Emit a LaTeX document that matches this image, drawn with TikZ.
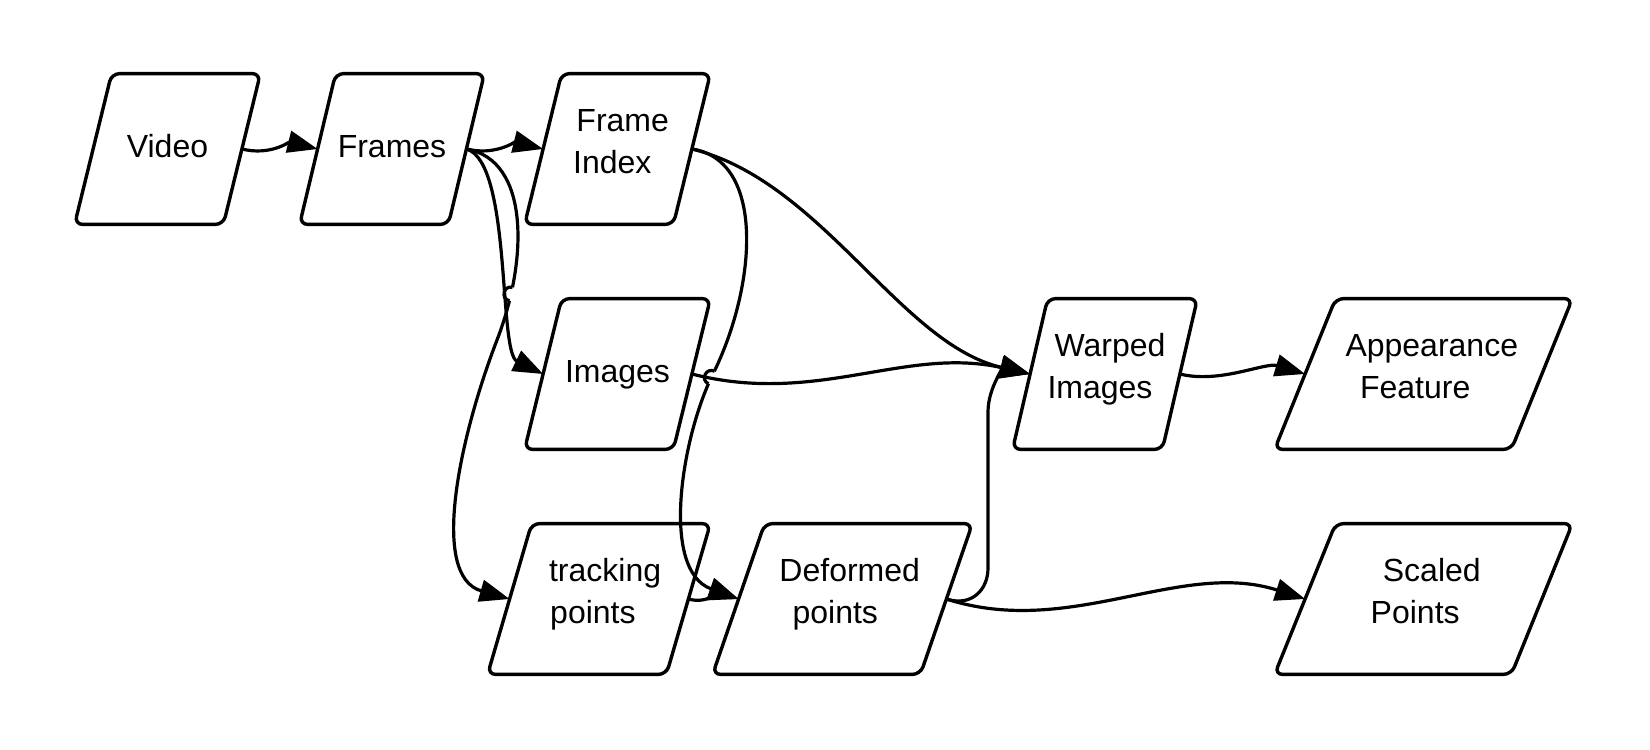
\documentclass[tikz,border=0pt]{standalone}
\usepackage{fontspec}
\setmainfont{Liberation Sans}
\usetikzlibrary{arrows.meta,calc}
\newcommand\oneline[1]{\raisebox{0pt}[8pt][0pt]{#1}}
\newcommand\twolines[3]{\raisebox{0pt}[24pt][0pt]{\vbox{\baselineskip=20.75pt\lineskiplimit=-50pt\lineskip=0pt\hbox to 0pt{\hss\kern#1\relax\kern#1\relax #2\hss}\hbox to 0pt{\hss\kern-#1\relax\kern-#1\relax #3\hss}}}}
\tikzset{
  boxnode/.style={rectangle, inner sep=0pt, minimum height=75pt, font=\fontsize{16pt}{20.75pt}\selectfont},
  boxline/.style={line width=1.7pt, rounded corners=4pt, line join=round},
  conn/.style={line width=1.6pt, -{Triangle[length=15pt,width=11pt]}},
  plainline/.style={line width=1.6pt},
}
\newcommand\pbox[6]{%
  \node[boxnode, minimum width=#4] (#1) at (#2,#3) {#6};
  \draw[boxline] (#1.south west) -- ($(#1.north west)+(#5,0)$) -- (#1.north east) -- ($(#1.south east)+(-#5,0)$) -- cycle;
  \coordinate (#1-in) at ($(#1.west)+(#5/2,0)$);
  \coordinate (#1-out) at ($(#1.east)+(-#5/2,0)$);
}
\begin{document}
\begin{tikzpicture}[x=0.5pt,y=-0.5pt]
\useasboundingbox (0,0) rectangle (1650,750);
\pbox{video}{167.5}{149}{92.5pt}{37}{\oneline{Video}}
\pbox{frames}{392}{149}{92pt}{36}{\oneline{Frames}}
\pbox{fi}{617.5}{149}{92.5pt}{37}{\twolines{2.6pt}{Frame}{Index}}
\pbox{images}{617.5}{374}{92.5pt}{37}{\oneline{Images}}
\pbox{tracking}{599}{599}{111pt}{44}{\twolines{3.05pt}{tracking}{points}}
\pbox{deformed}{842.5}{599}{129.5pt}{52}{\twolines{3.6pt}{Deformed}{points}}
\pbox{warped}{1105}{374}{92pt}{35}{\twolines{2.5pt}{Warped}{Images}}
\pbox{appearance}{1423.5}{374}{148.5pt}{61}{\twolines{4.15pt}{Appearance}{Feature}}
\pbox{scaled}{1423.5}{599}{148.5pt}{61}{\twolines{4.15pt}{Scaled}{Points}}

\draw[conn] (video-out) .. controls +(28,7) and +(-28,-7) .. (frames-in);
\draw[conn] (frames-out) .. controls +(28,7) and +(-28,-7) .. (fi-in);
% Frames -> tracking points (hops over Frames -> Images)
\draw[conn] (frames-out) .. controls +(63.5,11) and +(31,-80) .. (497,340) .. controls +(-37,96) and +(-80.5,-23) .. (tracking-in);
\fill[white] (511,294) circle[radius=7];
\draw[conn] (frames-out) .. controls +(45.5,13) and +(-45,-22) .. (images-in);
\draw[plainline] (512.5,287.2) .. controls (503.4,285.2) and (500.4,298.8) .. (509.5,300.8);
% Frame Index -> Deformed points (hops over Images -> Warped)
\draw[conn] (fi-out) .. controls +(73.5,11) and +(44,-89) .. (713,374) .. controls +(-31,62) and +(-79,-29) .. (deformed-in);
\fill[white] (711.5,377.5) circle[radius=7];
\draw[conn] (images-out) .. controls +(125,32) and +(-125,-28) .. (warped-in);
\draw[plainline] (714.6,371.2) .. controls (706.2,367.1) and (700.0,379.7) .. (708.4,383.8);
\draw[conn] (tracking-out) .. controls +(18,5) and +(-18,-6) .. (deformed-in);
\draw[conn] (fi-out) .. controls +(130,32) and +(-130,-30) .. (warped-in);
\draw[conn] (deformed-out) .. controls +(25,8) and +(0,22) .. (988,568) -- (988,412) .. controls +(0,-25) and +(-25,-7) .. (warped-in);
\draw[conn] (warped-out) .. controls +(40,10) and +(-40,-12) .. (appearance-in);
\draw[conn] (deformed-out) .. controls +(124,40) and +(-125,-40) .. (scaled-in);
\end{tikzpicture}
\end{document}
